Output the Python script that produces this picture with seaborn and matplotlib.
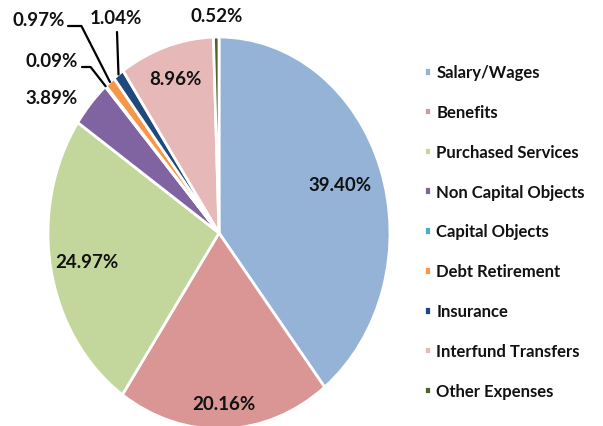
import numpy as np
import matplotlib
matplotlib.use("Agg")
import matplotlib.pyplot as plt
import seaborn as sns

# ---- data ----
categories = ["Salary/Wages", "Benefits", "Purchased Services", "Non Capital Objects",
              "Capital Objects", "Debt Retirement", "Insurance", "Interfund Transfers",
              "Other Expenses"]
values = [39.40, 20.16, 24.97, 3.89, 0.09, 0.97, 1.04, 8.96, 0.52]
labels = ["39.40%", "20.16%", "24.97%", "3.89%", "0.09%", "0.97%", "1.04%", "8.96%", "0.52%"]
colors = ["#95B3D7", "#D99694", "#C3D69B", "#8064A2", "#4BACC6",
          "#F79646", "#1F497D", "#E6B9B8", "#4F6228"]

sns.set_theme(style="white")
plt.rcParams["font.family"] = ["Lato", "DejaVu Sans"]
palette = sns.color_palette(colors)

W, H = 603, 427
fig = plt.figure(figsize=(W / 100, H / 100), dpi=100)
# pie drawn as a vertically stretched ellipse like the reference
ax = fig.add_axes([48 / W, (H - 430) / H, 342 / W, 392 / H])
wedges, _ = ax.pie(values, colors=palette, startangle=90, counterclock=False,
                   wedgeprops=dict(edgecolor="white", linewidth=2))
ax.set_aspect("auto")
ax.set_xlim(-1, 1)
ax.set_ylim(-1, 1)
ax.axis("off")

def mid(w):
    return np.deg2rad((w.theta1 + w.theta2) / 2)

# inside labels (index -> radius)
inside = {0: 0.75, 1: 0.87, 2: 0.785, 7: 0.83}
for i, r in inside.items():
    a = mid(wedges[i])
    ax.text(r * np.cos(a), r * np.sin(a), labels[i], ha="center", va="center",
            fontsize=13.5, fontweight="bold", color="#111111")

# outside labels: (index, text position in figure pixels from top-left)
outside = {3: (52, 98), 4: (52, 62), 5: (39, 21), 6: (116, 18), 8: (217, 16)}
for i, (tx, ty) in outside.items():
    fig.text(tx / W, 1 - ty / H, labels[i], ha="center", va="center",
             fontsize=13.5, fontweight="bold", color="#111111")

def leader(i, start, conn):
    a = mid(wedges[i])
    ax.annotate("", xy=(np.cos(a), np.sin(a)), xycoords="data",
                xytext=(start[0], H - start[1]), textcoords="figure pixels",
                arrowprops=dict(arrowstyle="-", color="black", lw=1.6,
                                shrinkA=0, shrinkB=0, connectionstyle=conn),
                annotation_clip=False)

leader(5, (68, 27), "angle,angleA=0,angleB=117,rad=0")
leader(4, (82, 68), "angle,angleA=0,angleB=128,rad=0")
leader(6, (117, 33), "arc3,rad=0")

leg = fig.legend(wedges, categories, loc="center left",
                 bbox_to_anchor=(423.5 / W, 1 - 232.5 / H), bbox_transform=fig.transFigure,
                 frameon=False, prop=dict(weight="bold", size=12),
                 handlelength=0.42, handleheight=0.42, handletextpad=0.35,
                 labelspacing=1.43, borderpad=0, borderaxespad=0)
for t in leg.get_texts():
    t.set_color("#111111")

fig.savefig("out.png", dpi=100)
